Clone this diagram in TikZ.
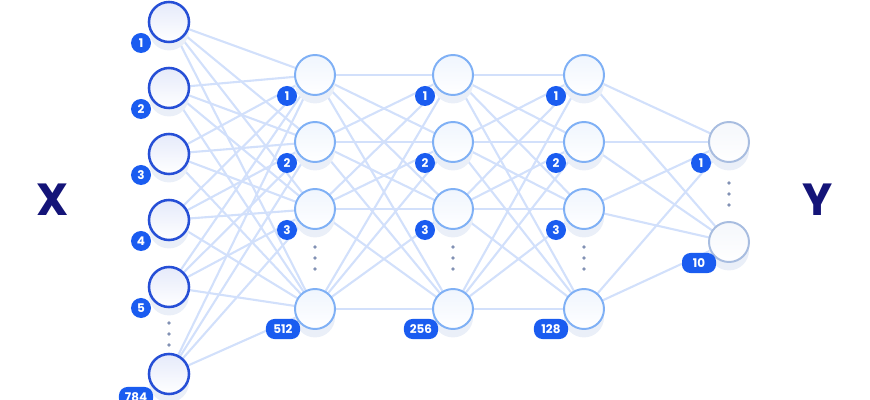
\documentclass[tikz,border=0pt]{standalone}
\usepackage{fontspec}
\setmainfont{Poppins}
\usetikzlibrary{positioning,shadows,backgrounds}
\definecolor{nninblue}{RGB}{38,79,214}
\definecolor{nnhidden}{RGB}{127,176,245}
\definecolor{nnout}{RGB}{168,189,224}
\definecolor{nnbadge}{RGB}{26,92,240}
\definecolor{nnedge}{RGB}{210,224,251}
\definecolor{nndots}{RGB}{130,145,180}
\definecolor{nnnavy}{RGB}{20,20,120}
\definecolor{nnshadow}{RGB}{234,239,248}
\tikzset{
    neuron/.style={
        circle,draw=#1,minimum size=1cm,inner sep=0pt,
        top color=#1!12,bottom color=white,
        drop shadow={shadow xshift=0pt,shadow yshift=-6pt,fill=nnshadow,opacity=1}
    },
    neuron/.default=nnhidden,
    badge/.style={
        circle,fill=nnbadge,text=white,minimum size=0.5cm,inner sep=0pt,
        font=\fontsize{8.5}{9}\selectfont\bfseries
    },
    pillbadge/.style={
        rounded corners=6pt,fill=nnbadge,text=white,minimum height=0.5cm,
        minimum width=0.85cm,inner sep=1pt,font=\fontsize{8.5}{9}\selectfont\bfseries
    },
    edge/.style={draw=nnedge,line width=1.5pt},
    vdot/.style={circle,fill=nndots,inner sep=0pt,minimum size=2.8pt}
}

\begin{document}
\begin{tikzpicture}[x=0.025cm,y=-0.025cm]
\useasboundingbox (0,0) rectangle (870,400);

% input layer
\node[neuron=nninblue,line width=1.8pt] (in1) at (169,22) {};
\node[neuron=nninblue,line width=1.8pt] (in2) at (169,88) {};
\node[neuron=nninblue,line width=1.8pt] (in3) at (169,154) {};
\node[neuron=nninblue,line width=1.8pt] (in4) at (169,220) {};
\node[neuron=nninblue,line width=1.8pt] (in5) at (169,287) {};
\node[neuron=nninblue,line width=1.8pt] (in6) at (169,374) {};

% hidden layers
\node[neuron,line width=1.4pt] (ha1) at (315,75) {};
\node[neuron,line width=1.4pt] (ha2) at (315,142) {};
\node[neuron,line width=1.4pt] (ha3) at (315,209) {};
\node[neuron,line width=1.4pt] (ha4) at (315,309) {};

\node[neuron,line width=1.4pt] (hb1) at (453,75) {};
\node[neuron,line width=1.4pt] (hb2) at (453,142) {};
\node[neuron,line width=1.4pt] (hb3) at (453,209) {};
\node[neuron,line width=1.4pt] (hb4) at (453,309) {};

\node[neuron,line width=1.4pt] (hc1) at (584,75) {};
\node[neuron,line width=1.4pt] (hc2) at (584,142) {};
\node[neuron,line width=1.4pt] (hc3) at (584,209) {};
\node[neuron,line width=1.4pt] (hc4) at (584,309) {};

% output layer
\node[neuron=nnout,line width=1.4pt] (out1) at (729,142) {};
\node[neuron=nnout,line width=1.4pt] (out2) at (729,242) {};

% connections
\begin{scope}[on background layer]
\foreach \a in {in1,in2,in3,in4,in5,in6}
    \foreach \b in {ha1,ha2,ha3,ha4}
        \draw[edge] (\a.center) -- (\b.center);
\foreach \a in {ha1,ha2,ha3,ha4}
    \foreach \b in {hb1,hb2,hb3,hb4}
        \draw[edge] (\a.center) -- (\b.center);
\foreach \a in {hb1,hb2,hb3,hb4}
    \foreach \b in {hc1,hc2,hc3,hc4}
        \draw[edge] (\a.center) -- (\b.center);
\foreach \a in {hc1,hc2,hc3,hc4}
    \foreach \b in {out1,out2}
        \draw[edge] (\a.center) -- (\b.center);
\end{scope}

% badges
\node[badge] (bin1) at (141,43) {1};
\node[badge] (bin2) at (141,109) {2};
\node[badge] (bin3) at (141,175) {3};
\node[badge] (bin4) at (141,241) {4};
\node[badge] (bin5) at (141,308) {5};
\node[pillbadge] (bin6) at (136,397) {784};

\node[badge] (bha1) at (287,96) {1};
\node[badge] (bha2) at (287,163) {2};
\node[badge] (bha3) at (287,230) {3};
\node[pillbadge] (bha4) at (283,329) {512};

\node[badge] (bhb1) at (425,96) {1};
\node[badge] (bhb2) at (425,163) {2};
\node[badge] (bhb3) at (425,230) {3};
\node[pillbadge] (bhb4) at (421,329) {256};

\node[badge] (bhc1) at (556,96) {1};
\node[badge] (bhc2) at (556,163) {2};
\node[badge] (bhc3) at (556,230) {3};
\node[pillbadge] (bhc4) at (551,329) {128};

\node[badge] (bout1) at (701,163) {1};
\node[pillbadge] (bout2) at (699,263) {10};

% ellipsis dots
\foreach \x/\y in {169/323,315/247,453/247,584/247,729/183}{
    \node[vdot] at (\x,\y) {};
    \node[vdot] at (\x,\y+11) {};
    \node[vdot] at (\x,\y+22) {};
}

% input / output labels
\node[text=nnnavy,font=\fontsize{32}{36}\selectfont\bfseries] (xlab) at (53,200) {X};
\node[text=nnnavy,font=\fontsize{32}{36}\selectfont\bfseries] (ylab) at (818,200) {Y};

\end{tikzpicture}
\end{document}
